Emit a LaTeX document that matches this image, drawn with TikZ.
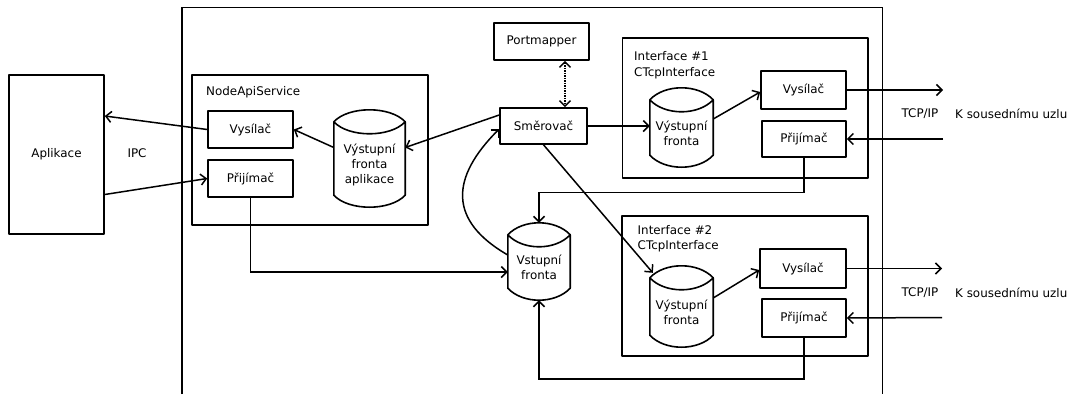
\documentclass[tikz,border=0pt]{standalone}
\usepackage{fontspec}
\setmainfont{DejaVu Sans}
\usetikzlibrary{arrows.meta}

% outline of a storage drum around a node: cap lens on top, arc at the bottom
\newcommand\drumoutline[1]{%
  \draw[boxline]
    ([yshift=12pt]#1.north west) .. controls +(15,-16) and +(-15,-16) .. ([yshift=12pt]#1.north east)
    .. controls +(-15,16) and +(15,16) .. ([yshift=12pt]#1.north west)
    -- (#1.south west)
    .. controls +(15,16) and +(-15,16) .. (#1.south east)
    -- ([yshift=12pt]#1.north east);}

\begin{document}
\begin{tikzpicture}[x=1pt,y=-1pt,
  font=\fontsize{11.9}{15}\selectfont,
  boxline/.style={line width=1.6pt, line join=round},
  unit/.style={draw, boxline, inner sep=0pt, minimum width=85, minimum height=37, align=center},
  holder/.style={draw, boxline, inner sep=0pt},
  drum/.style={inner sep=0pt, align=center},
  caption/.style={inner sep=0pt, anchor=west, align=left},
  link/.style={line width=1.5pt, -{Straight Barb[length=5.5pt,width=11pt]}},
  dual/.style={line width=1.5pt, densely dotted, {Straight Barb[length=5.5pt,width=11pt]}-{Straight Barb[length=5.5pt,width=11pt]}}
]
\useasboundingbox (0,0) rectangle (1079,394);

% node frame, open at the bottom
\draw[line width=1.8pt] (182,394) -- (182,7.5) -- (882.5,7.5) -- (882.5,394);

% application side
\node[unit, minimum width=95, minimum height=159] (aplik) at (56.5,154.5) {Aplikace};
\node[inner sep=0pt] (ipc) at (137,153) {IPC};

% NodeApiService
\node[holder, minimum width=236, minimum height=150] (nas) at (310,150) {};
\node[caption] (nastitle) at (206,92) {NodeApiService};
\node[unit] (vys0) at (250.5,129.5) {Vysílač};
\node[unit] (pri0) at (250.5,178.5) {Přijímač};
\node[drum, minimum width=71, minimum height=61] (qapp) at (369.5,164.5) {Výstupní\\fronta\\aplikace};
\drumoutline{qapp}

% router and port mapper
\node[unit, minimum width=95] (port) at (541.5,41.5) {Portmapper};
\node[unit, minimum width=87, minimum height=36] (smer) at (543.5,126) {Směrovač};

% input queue
\node[drum, minimum width=62, minimum height=41] (qin) at (539,267.5) {Vstupní\\fronta};
\drumoutline{qin}

% interface 1
\node[holder, minimum width=245.5, minimum height=140] (if1) at (745.25,108) {};
\node[caption, font=\fontsize{11.9}{16}\selectfont] (if1title) at (634,65) {Interface \#1\\CTcpInterface};
\node[drum, minimum width=63, minimum height=43] (q1) at (681.5,133.5) {Výstupní\\fronta};
\drumoutline{q1}
\node[unit, minimum height=38] (vys1) at (803.5,90) {Vysílač};
\node[unit, minimum width=84, minimum height=36] (pri1) at (804,139) {Přijímač};

% interface 2
\node[holder, minimum width=246, minimum height=140] (if2) at (745,286) {};
\node[caption] (if2title) at (637.5,238.5) {Interface \#2\\CTcpInterface};
\node[drum, minimum width=63, minimum height=45] (q2) at (681.5,312.5) {Výstupní\\fronta};
\drumoutline{q2}
\node[unit, minimum width=86, minimum height=39] (vys2) at (803,268.5) {Vysílač};
\node[unit, minimum width=84, minimum height=38] (pri2) at (804,318) {Přijímač};

% neighbour links
\coordinate (out1) at (943,90);
\coordinate (in1) at (943,139);
\coordinate (out2) at (942,268.5);
\coordinate (in2) at (942,317.5);
\node[inner sep=0pt] (tcp1) at (920,114) {TCP/IP};
\node[caption] (nb1) at (955,114) {K sousednímu uzlu};
\node[inner sep=0pt] (tcp2) at (920,293) {TCP/IP};
\node[caption] (nb2) at (955,293) {K sousednímu uzlu};

% IPC
\draw[link] (vys0.west) -- ([yshift=38.5pt]aplik.east);
\draw[link] ([yshift=-40pt]aplik.east) -- (pri0.west);
\draw[link] ([yshift=17pt]qapp.west) -- (vys0.east);
\draw[link] ([yshift=11pt]smer.west) -- ([yshift=17pt]qapp.east);

% router connections
\draw[dual] ([xshift=23.5pt]port.south) -- ([xshift=23.5pt]port.south |- smer.north);
\draw[link] (smer.east) -- (smer.east -| q1.west);
\draw[link] (smer.south) -- ([shift={(3pt,17pt)}]q2.north west);
\draw[link] ([yshift=12.5pt]qin.west) to[out=150,in=225,looseness=1.4] ([yshift=-3pt]smer.west);

% receivers into the input queue
\draw[link] (pri0.south) |- ([yshift=-4.5pt]qin.west);
\draw[link] (pri1.south) -- ++(0,34.5) -| ([yshift=24pt]qin.north);
\draw[link] (pri2.south) -- ++(0,41) -| ([yshift=-12pt]qin.south);

% interface internals
\draw[link] ([yshift=14.5pt]q1.east) -- ([yshift=-2pt]vys1.west);
\draw[link] ([yshift=14.5pt]q2.east) -- ([yshift=-1.5pt]vys2.west);
\draw[link] (vys1.east) -- (out1);
\draw[link] (in1) -- (pri1.east);
\draw[link] (vys2.east) -- (out2);
\draw[link] (in2) -- (pri2.east);
\end{tikzpicture}
\end{document}
